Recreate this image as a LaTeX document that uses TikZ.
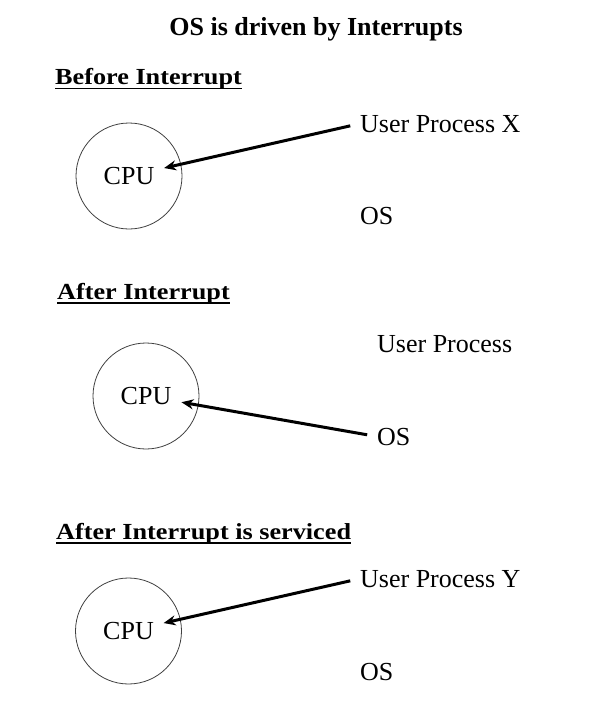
\documentclass[tikz,border=0pt]{standalone}
\usepackage{fontspec}
\setmainfont{Liberation Serif}
\usepackage{tikz}
\usetikzlibrary{arrows.meta,positioning}

\newcommand{\hdtext}[1]{\scalebox{1.14}[1]{#1}}

\tikzset{
  titletxt/.style={font=\fontsize{26}{30}\selectfont\bfseries, inner sep=0pt, anchor=base},
  secthead/.style={font=\fontsize{23}{27}\selectfont\bfseries, inner sep=0pt, anchor=base west},
  txt/.style={font=\fontsize{26}{30}\selectfont, inner sep=0pt, anchor=base west},
  cpu/.style={circle, draw=black!75, line width=0.8pt, minimum size=106pt, inner sep=0pt, font=\fontsize{26}{30}\selectfont},
  ptr/.style={line width=3pt, -{Stealth[length=12pt,width=10pt]}, shorten <=10pt, shorten >=36pt},
  uline/.style={line width=1.8pt}
}

\begin{document}
\begin{tikzpicture}[x=1pt, y=-1pt]
    \useasboundingbox (0,0) rectangle (596,728);

    \node[titletxt] (title) at (316,35) {OS is driven by Interrupts};

    % before
    \node[secthead] (hBefore) at (55,84) {\hdtext{Before Interrupt}};
    \draw[uline] ([yshift=-4.5pt]hBefore.base west) -- ([yshift=-4.5pt]hBefore.base east);
    \node[cpu] (cpuA) at (129,176) {CPU};
    \node[txt] (upX) at (360,132) {User Process X};
    \node[txt] (osA) at (360,224) {OS};
    \draw[ptr] (upX.west) -- (cpuA.center);

    % after
    \node[secthead] (hAfter) at (57,299) {\hdtext{After Interrupt}};
    \draw[uline] ([yshift=-4pt]hAfter.base west) -- ([yshift=-4pt]hAfter.base east);
    \node[cpu] (cpuB) at (146,396) {CPU};
    \node[txt] (upB) at (377,352) {User Process};
    \node[txt] (osB) at (377,445) {OS};
    \draw[ptr] (osB.west) -- (cpuB.center);

    % serviced
    \node[secthead] (hServ) at (56,539) {\hdtext{After Interrupt is serviced}};
    \draw[uline] ([yshift=-4pt]hServ.base west) -- ([yshift=-4pt]hServ.base east);
    \node[cpu] (cpuC) at (128.5,631) {CPU};
    \node[txt] (upY) at (360,587) {User Process Y};
    \node[txt] (osC) at (360,680) {OS};
    \draw[ptr] (upY.west) -- (cpuC.center);
\end{tikzpicture}
\end{document}
